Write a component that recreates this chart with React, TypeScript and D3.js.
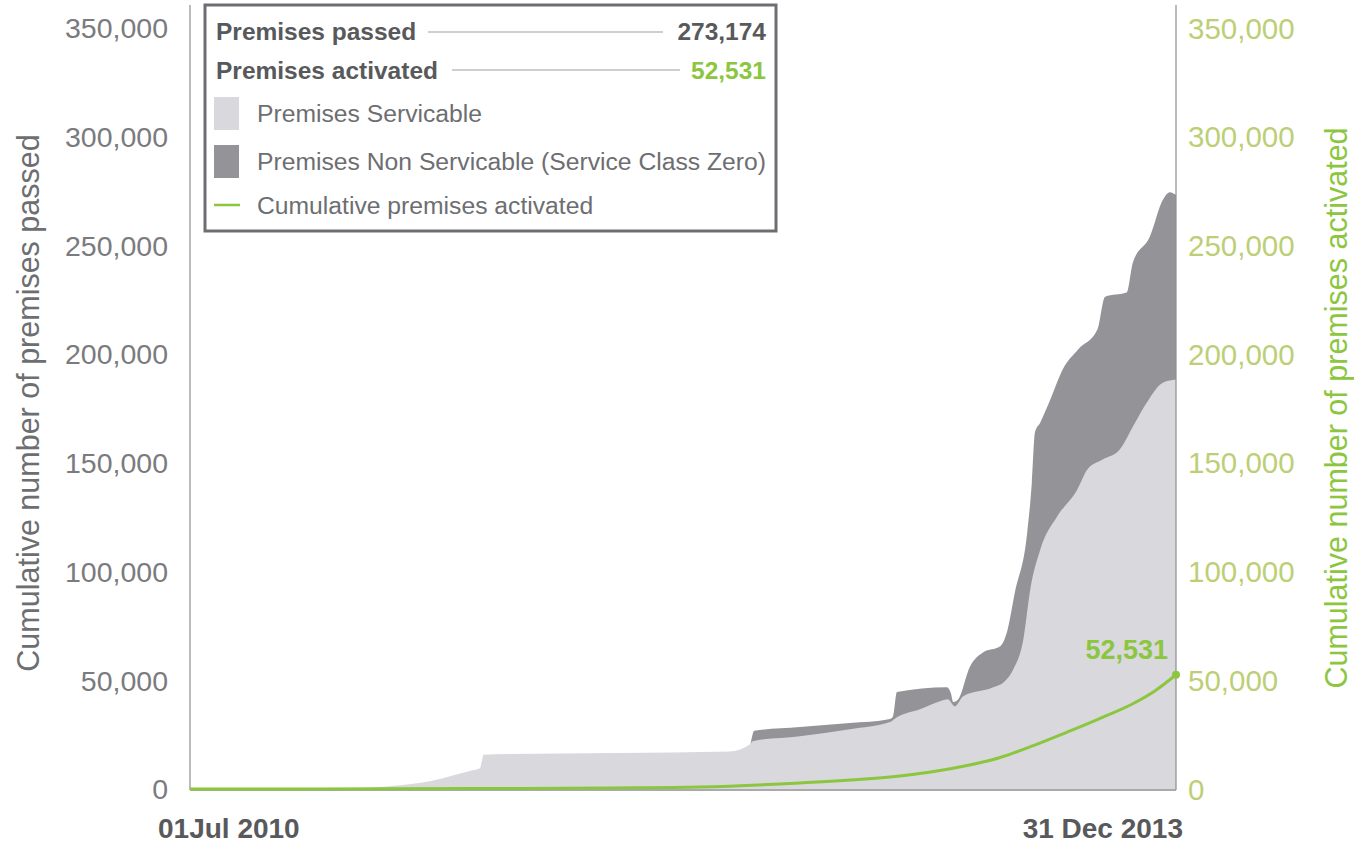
import * as d3 from 'd3';

const servicableDates = [
	'2010-07-01', '2011-01-15', '2011-04-25', '2011-06-29', '2011-07-12', '2011-07-17',
	'2012-05-31', '2012-06-26', '2012-06-30', '2012-08-30', '2012-11-03', '2012-12-25',
	'2013-01-03', '2013-02-02', '2013-02-28', '2013-03-10', '2013-03-19', '2013-03-30',
	'2013-05-08', '2013-05-23', '2013-06-03', '2013-06-16', '2013-06-25', '2013-07-08',
	'2013-07-30', '2013-08-25', '2013-09-07', '2013-09-27', '2013-10-19', '2013-11-08',
	'2013-11-23', '2013-12-14', '2013-12-31',
];
const servicableValues = [
	0, 300, 2800, 8300, 9500, 15800,
	17300, 20500, 22000, 24300, 27500, 30800,
	33000, 36700, 40400, 41300, 38100, 42700,
	46800, 49600, 55100, 68900, 91900, 110200,
	125400, 137800, 147000, 151600, 156200, 168600,
	177700, 186900, 188300,
];

const passedDates = [
	'2012-06-27', '2012-07-02', '2012-08-30', '2012-11-03', '2012-12-25', '2012-12-29',
	'2013-01-03', '2013-03-09', '2013-03-14', '2013-03-17', '2013-03-23', '2013-04-08',
	'2013-04-25', '2013-05-17', '2013-05-26', '2013-06-05', '2013-06-21', '2013-06-27',
	'2013-07-01', '2013-07-08', '2013-07-21', '2013-08-06', '2013-08-26', '2013-09-20',
	'2013-09-30', '2013-10-28', '2013-11-05', '2013-11-27', '2013-12-14', '2013-12-23',
	'2013-12-31',
];
const passedValues = [
	20500, 26800, 28500, 30300, 32200, 33500,
	44600, 46800, 44000, 40000, 41000, 56500,
	62900, 65700, 72600, 90500, 118000, 141000,
	164000, 168600, 179100, 192900, 202100, 211300,
	226400, 228300, 242000, 254000, 271000, 274500,
	273174,
];

const activatedDates = [
	'2010-07-01', '2011-07-01', '2012-01-01', '2012-04-23', '2012-08-30', '2013-01-07',
	'2013-02-20', '2013-04-04', '2013-05-17', '2013-06-28', '2013-08-12', '2013-09-23',
	'2013-11-05', '2013-12-04', '2013-12-31',
];
const activatedValues = [
	0, 200, 500, 900, 2800, 6000,
	8000, 10800, 14500, 19800, 26200, 32400,
	39200, 45200, 52531,
];

const yTicks = [0, 50000, 100000, 150000, 200000, 250000, 300000, 350000];
const dateLabels = ['01Jul 2010', '31 Dec 2013'];

const parse = d3.timeParse('%Y-%m-%d');
const fmt = d3.format(',');

const FONT = '"Liberation Sans", Arial, Helvetica, sans-serif';
const GREEN = '#8cc63f';
const GREEN_LIGHT = '#bccf76';
const DARK_TEXT = '#58595b';
const MID_TEXT = '#6d6e71';
const TICK_TEXT = '#7a7b7e';
const LIGHT_FILL = '#d8d8dd';
const DARK_FILL = '#939398';
const AXIS = '#8e8e92';

type Pt = { d: Date; v: number };
const toPts = (ds: string[], vs: number[]): Pt[] => ds.map((s, i) => ({ d: parse(s) as Date, v: vs[i] }));

export default function App() {
	const width = 1354;
	const height = 843;
	const left = 190;
	const right = 1176;

	const x = d3
		.scaleTime()
		.domain([parse('2010-07-01') as Date, parse('2013-12-31') as Date])
		.range([left, right]);
	const y = d3.scaleLinear().domain([0, 350000]).range([789, 28]);
	const yRight = d3.scaleLinear().domain([0, 350000]).range([789, 28]);

	const area = d3
		.area<Pt>()
		.x((p) => x(p.d))
		.y0(y(0))
		.y1((p) => y(p.v))
		.curve(d3.curveMonotoneX);

	const line = d3
		.line<Pt>()
		.x((p) => x(p.d))
		.y((p) => yRight(p.v))
		.curve(d3.curveMonotoneX);

	const servicable = toPts(servicableDates, servicableValues);
	const passed = toPts(passedDates, passedValues);
	const activated = toPts(activatedDates, activatedValues);
	const last = activated[activated.length - 1];

	return (
		<svg
			width={width}
			height={height}
			style={{ position: 'absolute', left: 0, top: 0, background: '#fff' }}
			fontFamily={FONT}
		>
			{/* areas */}
			<path d={area(passed) ?? ''} fill={DARK_FILL} />
			<path d={area(servicable) ?? ''} fill={LIGHT_FILL} />

			{/* axes lines */}
			<line x1={left} x2={left} y1={5} y2={790} stroke={AXIS} strokeWidth={1.2} />
			<line x1={right} x2={right} y1={5} y2={790} stroke={AXIS} strokeWidth={1.2} />
			<line x1={left} x2={right} y1={790} y2={790} stroke={AXIS} strokeWidth={1.5} />

			{/* activated line */}
			<path d={line(activated) ?? ''} fill="none" stroke={GREEN} strokeWidth={3} />
			<circle cx={x(last.d)} cy={yRight(last.v)} r={4} fill={GREEN} />
			<text
				x={1168}
				y={yRight(last.v) - 16}
				textAnchor="end"
				fontSize={27}
				fontWeight="bold"
				fill={GREEN}
			>
				{fmt(last.v)}
			</text>

			{/* left ticks */}
			{yTicks.map((t) => (
				<text key={'l' + t} x={168} y={y(t)} dy="0.36em" textAnchor="end" fontSize={28.5} fill={TICK_TEXT}>
					{fmt(t)}
				</text>
			))}
			{/* right ticks */}
			{yTicks.map((t) => (
				<text key={'r' + t} x={1188} y={yRight(t)} dy="0.36em" textAnchor="start" fontSize={29.5} fill={GREEN_LIGHT}>
					{fmt(t)}
				</text>
			))}

			{/* axis titles */}
			<text
				transform={`translate(39, 403) rotate(-90)`}
				textAnchor="middle"
				fontSize={30.5}
				fill={MID_TEXT}
			>
				Cumulative number of premises passed
			</text>
			<text
				transform={`translate(1347, 408) rotate(-90)`}
				textAnchor="middle"
				fontSize={30.5}
				fill={GREEN}
			>
				Cumulative number of premises activated
			</text>

			{/* date labels */}
			<text x={x.range()[0] - 32} y={838} fontSize={28} fontWeight="bold" fill={DARK_TEXT}>
				{dateLabels[0]}
			</text>
			<text x={x.range()[1] + 7} y={838} textAnchor="end" fontSize={28} fontWeight="bold" fill={DARK_TEXT}>
				{dateLabels[1]}
			</text>

			{/* legend */}
			<g>
				<rect x={205} y={5} width={571} height={226} fill="#fff" stroke={MID_TEXT} strokeWidth={3} />
				<text x={216} y={40} fontSize={24.5} fontWeight="bold" fill={DARK_TEXT}>
					Premises passed
				</text>
				<line x1={428} x2={663} y1={32} y2={32} stroke="#cfcfd2" strokeWidth={2} />
				<text x={766} y={40} textAnchor="end" fontSize={24.5} fontWeight="bold" fill={DARK_TEXT}>
					{fmt(passedValues[passedValues.length - 1])}
				</text>
				<text x={216} y={79} fontSize={24.5} fontWeight="bold" fill={DARK_TEXT}>
					Premises activated
				</text>
				<line x1={452} x2={680} y1={70} y2={70} stroke="#cfcfd2" strokeWidth={2} />
				<text x={766} y={79} textAnchor="end" fontSize={24.5} fontWeight="bold" fill={GREEN}>
					{fmt(last.v)}
				</text>

				<rect x={214} y={97} width={25} height={33} fill={LIGHT_FILL} />
				<text x={257} y={122} fontSize={24.7} fill={MID_TEXT}>
					Premises Servicable
				</text>
				<rect x={214} y={145} width={25} height={33} fill={DARK_FILL} />
				<text x={257} y={170} fontSize={24.7} fill={MID_TEXT}>
					Premises Non Servicable (Service Class Zero)
				</text>
				<line x1={214} x2={240} y1={205} y2={205} stroke={GREEN} strokeWidth={2.5} />
				<text x={257} y={214} fontSize={24.7} fill={MID_TEXT}>
					Cumulative premises activated
				</text>
			</g>
		</svg>
	);
}
